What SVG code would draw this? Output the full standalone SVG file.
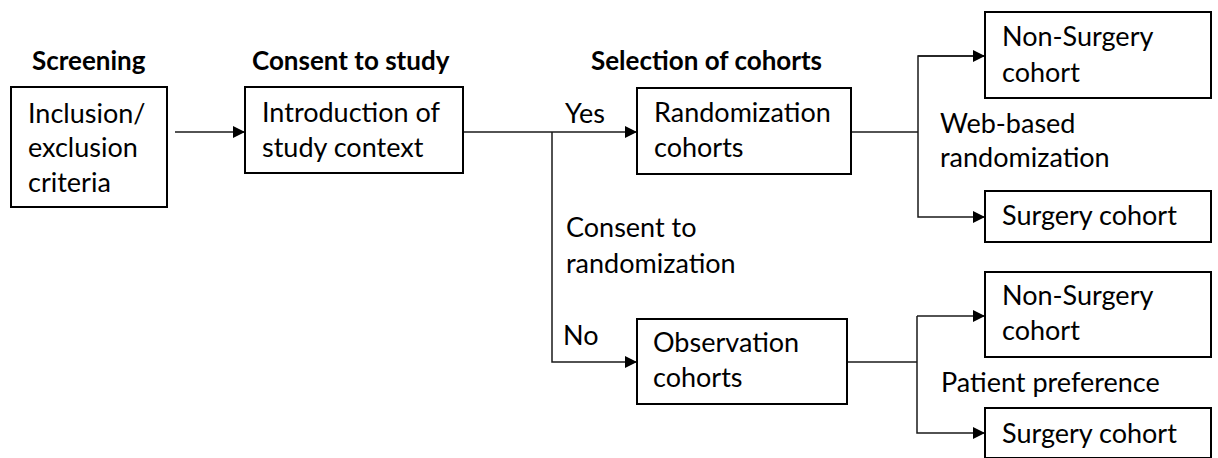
<svg xmlns="http://www.w3.org/2000/svg" width="1218" height="458" viewBox="0 0 1218 458">
  <defs>
    <style>
      .box { fill: #ffffff; stroke: #000000; stroke-width: 2; }
      .txt { font-family: Lato, "Open Sans", "Liberation Sans", sans-serif; font-size: 27px; fill: #000000; }
      .head { font-family: Lato, "Open Sans", "Liberation Sans", sans-serif; font-size: 26px; font-weight: bold; fill: #000000; }
      .wire { fill: none; stroke: #1a1a1a; stroke-width: 1.5; }
    </style>
    <marker id="arrow" viewBox="0 0 12 12" refX="12" refY="6" markerWidth="12" markerHeight="12" markerUnits="userSpaceOnUse" orient="auto">
      <path d="M0,0 L12,6 L0,12 Z" fill="#000000"/>
    </marker>
  </defs>

  <rect width="1218" height="458" fill="#ffffff"/>

  <!-- Stage headings -->
  <g id="headings">
    <text class="head" x="32" y="70">Screening</text>
    <text class="head" x="252" y="70">Consent to study</text>
    <text class="head" x="591" y="70">Selection of cohorts</text>
  </g>

  <!-- Connectors -->
  <g id="connectors">
    <path class="wire" d="M175,132 H245" marker-end="url(#arrow)"/>
    <path class="wire" d="M463,132 H637" marker-end="url(#arrow)"/>
    <path class="wire" d="M552,132 V362 H637" marker-end="url(#arrow)"/>
    <path class="wire" d="M851,132 H918"/>
    <path class="wire" d="M985,56 H918 V217 H985" marker-end="url(#arrow)"/>
    <path class="wire" d="M918,56 H985" marker-end="url(#arrow)"/>
    <path class="wire" d="M847,362 H917"/>
    <path class="wire" d="M917,316 V433 H985" marker-end="url(#arrow)"/>
    <path class="wire" d="M917,316 H985" marker-end="url(#arrow)"/>
  </g>

  <!-- Connector labels -->
  <g id="labels">
    <text class="txt" x="565" y="123">Yes</text>
    <text class="txt" x="566" y="237">Consent to</text>
    <text class="txt" x="566" y="273">randomization</text>
    <text class="txt" x="563" y="345">No</text>
    <text class="txt" x="940" y="133">Web-based</text>
    <text class="txt" x="940" y="167">randomization</text>
    <text class="txt" x="941" y="392">Patient preference</text>
  </g>

  <!-- Nodes -->
  <g id="inclusion">
    <rect class="box" x="11" y="87" width="156" height="120"/>
    <text class="txt" x="28" y="123">Inclusion/</text>
    <text class="txt" x="28" y="157">exclusion</text>
    <text class="txt" x="28" y="192">criteria</text>
  </g>
  <g id="introduction">
    <rect class="box" x="245" y="87" width="218" height="86"/>
    <text class="txt" x="262" y="122">Introduction of</text>
    <text class="txt" x="262" y="157">study context</text>
  </g>
  <g id="randomization">
    <rect class="box" x="637" y="88" width="214" height="86"/>
    <text class="txt" x="654" y="122">Randomization</text>
    <text class="txt" x="654" y="157">cohorts</text>
  </g>
  <g id="observation">
    <rect class="box" x="637" y="319" width="210" height="85"/>
    <text class="txt" x="653" y="352">Observation</text>
    <text class="txt" x="653" y="387">cohorts</text>
  </g>
  <g id="rand-non-surgery">
    <rect class="box" x="985" y="12" width="226" height="86"/>
    <text class="txt" x="1002" y="46">Non-Surgery</text>
    <text class="txt" x="1002" y="82">cohort</text>
  </g>
  <g id="rand-surgery">
    <rect class="box" x="985" y="191" width="226" height="51"/>
    <text class="txt" x="1002" y="225">Surgery cohort</text>
  </g>
  <g id="obs-non-surgery">
    <rect class="box" x="985" y="272" width="226" height="85"/>
    <text class="txt" x="1002" y="305">Non-Surgery</text>
    <text class="txt" x="1002" y="340">cohort</text>
  </g>
  <g id="obs-surgery">
    <rect class="box" x="985" y="408" width="226" height="50"/>
    <text class="txt" x="1002" y="443">Surgery cohort</text>
  </g>
</svg>
